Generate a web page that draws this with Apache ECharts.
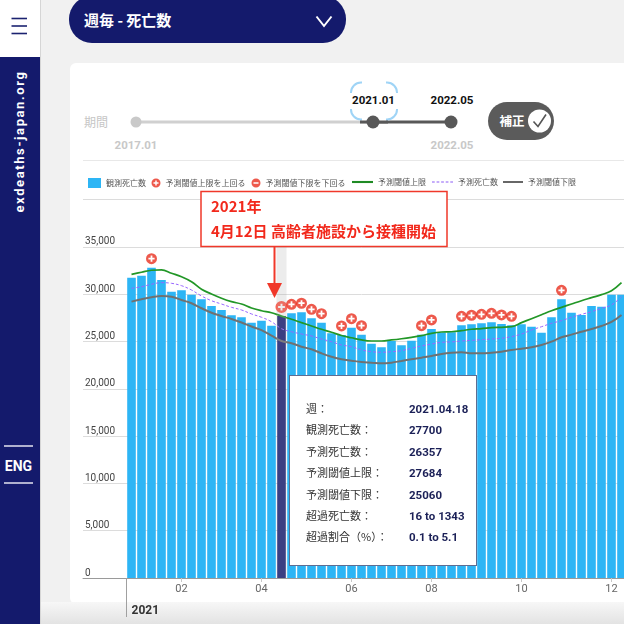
<!DOCTYPE html>
<html lang="ja"><head><meta charset="utf-8">
<script src="https://cdn.jsdelivr.net/npm/echarts@6.0.0/dist/echarts.min.js"></script>
<style>
html,body{margin:0;padding:0;}
body{width:624px;height:624px;overflow:hidden;position:relative;background:#f1f1f1;font-family:"Noto Sans CJK JP","Noto Sans",sans-serif;}
#chrome{position:absolute;left:0;top:0;}
#chart{position:absolute;left:0;top:0;width:640px;height:624px;}
</style></head><body>
<svg id="chrome" width="624" height="624" xmlns="http://www.w3.org/2000/svg">
 <defs><linearGradient id="fade" x1="0" y1="0" x2="0" y2="1"><stop offset="0" stop-color="#f7f7f7"/><stop offset="1" stop-color="#e3e3e3"/></linearGradient></defs>
 <rect x="0" y="0" width="624" height="624" fill="#f1f1f1"/>
 <rect x="70" y="63" width="600" height="541" rx="6" fill="#ffffff"/>
 <rect x="41" y="602" width="583" height="22" fill="url(#fade)"/>
 <rect x="0" y="0" width="40" height="57" fill="#ffffff"/>
 <rect x="0" y="57" width="40" height="567" fill="#141a6c"/>
 <line x1="40.5" y1="0" x2="40.5" y2="624" stroke="#d6d6d6"/>
 <g stroke="#1b2270" stroke-width="1.6"><line x1="11.5" y1="18.5" x2="27" y2="18.5"/><line x1="11.5" y1="26" x2="27" y2="26"/><line x1="11.5" y1="33.5" x2="27" y2="33.5"/></g>
 <text transform="translate(23.8,141.5) rotate(-90)" text-anchor="middle" font-family="Roboto" font-weight="700" font-size="13" letter-spacing="1.6" fill="#ffffff">exdeaths-japan.org</text>
 <g stroke="#e4e5f0" stroke-width="1.5"><line x1="4" y1="446" x2="33" y2="446"/><line x1="4" y1="483" x2="33" y2="483"/></g>
 <text x="18.5" y="470.5" text-anchor="middle" font-family="Roboto" font-weight="700" font-size="14" fill="#ffffff">ENG</text>
 <rect x="69" y="-4" width="277" height="47" rx="23" fill="#141a6c"/>
 <text x="84" y="25.5" font-family="'Noto Sans CJK JP'" font-weight="700" font-size="15" fill="#ffffff">週毎 - 死亡数</text>
 <polyline points="316.5,16.5 324,26 331.5,16.5" fill="none" stroke="#ffffff" stroke-width="2"/>
 <text x="84" y="126.5" font-family="'Noto Sans CJK JP'" font-size="12" fill="#c6c6c6">期間</text>
 <line x1="136" y1="122" x2="373" y2="122" stroke="#d0d0d0" stroke-width="3"/>
 <line x1="373" y1="122" x2="451" y2="122" stroke="#585858" stroke-width="3"/>
 <circle cx="136" cy="122" r="5.5" fill="#c9c9c9"/>
 <rect x="351" y="82.5" width="46" height="37" rx="10" fill="none" stroke="#9fd4f6" stroke-width="2"/>
 <rect x="348" y="93" width="52" height="16" fill="#ffffff"/>
 <rect x="362" y="79" width="24" height="44" fill="#ffffff"/>
 <line x1="360" y1="122" x2="388" y2="122" stroke="#585858" stroke-width="3"/>
 <circle cx="373" cy="122" r="6.5" fill="#585858"/>
 <circle cx="451" cy="122" r="6.5" fill="#585858"/>
 <g font-family="Roboto" font-weight="700" font-size="11.5" text-anchor="middle">
  <text x="373.5" y="104" fill="#111111">2021.01</text>
  <text x="452" y="104" fill="#111111">2022.05</text>
  <text x="452" y="149" fill="#c8c8c8">2022.05</text>
  <text x="136" y="149" fill="#c8c8c8">2017.01</text>
 </g>
 <rect x="488" y="102" width="66" height="38" rx="19" fill="#5b5b5b"/>
 <text x="512" y="125.5" text-anchor="middle" font-family="'Noto Sans CJK JP'" font-weight="700" font-size="12.5" fill="#ffffff">補正</text>
 <circle cx="539.5" cy="121" r="11.5" fill="#ffffff"/>
 <polyline points="533.5,121.5 538,126.5 546,114.5" fill="none" stroke="#555555" stroke-width="1.6"/>
 <line x1="83" y1="160.5" x2="624" y2="160.5" stroke="#e8e8e8"/>
</svg>
<div id="chart"></div>
<script>
const weeks = ['2021.01.03','2021.01.10','2021.01.17','2021.01.24','2021.01.31','2021.02.07','2021.02.14','2021.02.21','2021.02.28','2021.03.07',
 '2021.03.14','2021.03.21','2021.03.28','2021.04.04','2021.04.11','2021.04.18','2021.04.25','2021.05.02','2021.05.09','2021.05.16',
 '2021.05.23','2021.05.30','2021.06.06','2021.06.13','2021.06.20','2021.06.27','2021.07.04','2021.07.11','2021.07.18','2021.07.25',
 '2021.08.01','2021.08.08','2021.08.15','2021.08.22','2021.08.29','2021.09.05','2021.09.12','2021.09.19','2021.09.26','2021.10.03',
 '2021.10.10','2021.10.17','2021.10.24','2021.10.31','2021.11.07','2021.11.14','2021.11.21','2021.11.28','2021.12.05','2021.12.12'];
const observed = [31750,31970,32810,31510,30270,30420,29960,29470,28760,28340,27780,27570,27000,27210,26680,27700,27990,28100,27460,27000,
 25870,25700,26470,25730,24780,24390,25060,24610,25090,25730,26330,25950,25980,26720,26830,26930,27040,26860,26720,26830,
 26570,25940,27570,29470,28050,27810,28760,28690,29960,29960];
const expected = [30630,30800,31060,31230,31160,30910,30450,29820,29320,28970,28620,28340,27920,27570,27100,26357,26040,25800,25590,25270,
 24990,24640,24460,24110,23930,23870,23930,24040,24290,24530,24740,24920,24960,25060,25130,25200,25270,25350,25520,25800,
 26220,26570,26930,27210,27570,27880,28160,28520,28870,29750];
const upper = [32110,32330,32540,32570,32220,31860,31330,30530,30030,29580,29220,28970,28550,28260,28050,27684,27360,27000,26650,26300,
 25980,25640,25400,25170,25060,25060,25170,25300,25450,25620,25870,26010,26040,26150,26300,26360,26470,26510,26570,27000,
 27420,27840,28260,28620,28970,29320,29640,29960,30380,31230];
const lower = [29220,29470,29680,29820,29750,29400,29050,28520,28050,27700,27390,27020,26590,26200,25620,25060,24820,24460,24180,23760,
 23400,23130,22980,22840,22770,22700,22770,22950,23130,23300,23470,23690,23820,23870,23760,23760,23820,23930,24110,24250,
 24390,24640,24990,25450,25730,26040,26330,26650,27070,27810];
const yMin = 0, yMax = 40000, yInterval = 5000;
const selectedIndex = 15;
const annotationLines = ['2021年', '4月12日 高齢者施設から接種開始'];
const seriesNames = ['観測死亡数','予測閾値上限を上回る','予測閾値下限を下回る','予測閾値上限','予測死亡数','予測閾値下限'];
const tipLabels = ['週：','観測死亡数：','予測死亡数：','予測閾値上限：','予測閾値下限：','超過死亡数：','超過割合（%）：'];

const NUMF = "Roboto,sans-serif";
const CJK = "'Noto Sans CJK JP',sans-serif";
const BAR = '#2db5f5', SEL = '#1b1f6e', RED = '#e8301f';
const GREEN = '#1f8a24', PURPLE = '#8b5cf6', GRAY = '#676767';
const CIRCLE = 'M10,0A10,10,0,1,1,10,20A10,10,0,1,1,10,0Z';
const PLUS = 'path://' + CIRCLE + 'M8.4,4.4L8.4,8.4L4.4,8.4L4.4,11.6L8.4,11.6L8.4,15.6L11.6,15.6L11.6,11.6L15.6,11.6L15.6,8.4L11.6,8.4L11.6,4.4Z';
const MINUS = 'path://' + CIRCLE + 'M4.4,8.4L4.4,11.6L15.6,11.6L15.6,8.4Z';
const SOLID = 'path://M0,0L20,0L20,2L0,2Z';
const DASHED = 'path://M0,0L2.6,0L2.6,1L0,1Z M4.35,0L6.95,0L6.95,1L4.35,1Z M8.7,0L11.3,0L11.3,1L8.7,1Z M13.05,0L15.65,0L15.65,1L13.05,1Z M17.4,0L20,0L20,1L17.4,1Z';

const isMonthTick = (i, v) => { const m = +v.slice(5,7), d = +v.slice(8,10); return d <= 7 && m % 2 === 0; };
const isYearTick = (i, v) => i === 0 || (+v.slice(5,7) === 1 && +v.slice(8,10) <= 7);

const barData = observed.map((v, i) => i === selectedIndex ? {value: v, itemStyle: {color: SEL}} : v);
const aboveData = observed.map((v, i) => v > upper[i] ? v : '-');
const belowData = observed.map((v, i) => v < lower[i] ? v : '-');

const fmt = n => n.toLocaleString('en-US');
function tipHtml(i) {
  const e1 = observed[i] - upper[i], e2 = observed[i] - expected[i];
  const p1 = (e1 / upper[i] * 100).toFixed(1), p2 = (e2 / expected[i] * 100).toFixed(1);
  const vals = [weeks[i], observed[i], expected[i], upper[i], lower[i], e1 + ' to ' + e2, p1 + ' to ' + p2];
  let rows = '';
  tipLabels.forEach((l, k) => {
    rows += '<div style="height:21.4px;line-height:21.4px;white-space:nowrap">' +
      '<span style="display:inline-block;width:103px;color:#333;font-size:11px;font-family:&quot;Noto Sans CJK JP&quot;,sans-serif">' + l + '</span>' +
      '<span style="font-weight:700;color:#1b2057;font-size:11.5px;font-family:Roboto,sans-serif">' + vals[k] + '</span></div>';
  });
  return '<div style="width:188px;height:191px;box-sizing:border-box;border:1.5px solid #5e6d92;background:#fff;padding:21px 0 0 16px;">' + rows + '</div>';
}

const legendText = {fontSize: 8, color: '#555', fontFamily: CJK};
const chart = echarts.init(document.getElementById('chart'));
const GRID_TOP = 199.7, GRID_H = 378.3;
chart.setOption({
  animation: false,
  textStyle: {fontFamily: CJK},
  grid: [
    {left: 83, top: GRID_TOP, width: 557, height: GRID_H},
    {left: 126.5, top: GRID_TOP, width: 500, height: GRID_H}
  ],
  legend: [
    {left: 83, top: 173, itemWidth: 13, itemHeight: 10, selectedMode: false, textStyle: legendText, data: [{name: seriesNames[0], icon: 'rect'}]},
    {left: 146.5, top: 173.5, itemWidth: 9, itemHeight: 9, selectedMode: false, textStyle: legendText, data: [{name: seriesNames[1], icon: PLUS}]},
    {left: 246.5, top: 173.5, itemWidth: 9, itemHeight: 9, selectedMode: false, textStyle: legendText, data: [{name: seriesNames[2], icon: MINUS}]},
    {left: 347, top: 173, itemWidth: 21, itemHeight: 10, selectedMode: false, textStyle: legendText, data: [{name: seriesNames[3], icon: SOLID}]},
    {left: 427, top: 173, itemWidth: 21, itemHeight: 10, selectedMode: false, textStyle: legendText, data: [{name: seriesNames[4], icon: DASHED}]},
    {left: 498, top: 173, itemWidth: 20, itemHeight: 10, selectedMode: false, textStyle: legendText, data: [{name: seriesNames[5], icon: SOLID}]}
  ],
  tooltip: {
    trigger: 'axis', triggerOn: 'none', alwaysShowContent: true, transitionDuration: 0,
    axisPointer: {type: 'shadow', shadowStyle: {color: 'rgba(170,170,170,0.22)'}},
    position: [289, 375], padding: 0, borderWidth: 0, backgroundColor: 'transparent',
    extraCssText: 'box-shadow:none;border-radius:0;',
    formatter: params => tipHtml(params[0].dataIndex)
  },
  xAxis: [
    {gridIndex: 0, type: 'value', min: 0, max: 1, axisLine: {show: true, lineStyle: {color: '#9a9a9a'}},
     axisTick: {show: false}, axisLabel: {show: false}, splitLine: {show: false}, axisPointer: {show: false}},
    {gridIndex: 1, type: 'category', data: weeks, position: 'bottom', axisLine: {show: false},
     axisTick: {show: true, alignWithLabel: true, interval: isMonthTick, length: 4, lineStyle: {color: '#c8c8c8'}},
     axisLabel: {interval: isMonthTick, formatter: v => v.slice(5,7), color: '#666', fontSize: 11, margin: 6, fontFamily: NUMF}},
    {gridIndex: 1, type: 'category', data: weeks, position: 'bottom', axisLine: {show: false}, axisPointer: {show: false},
     axisTick: {show: true, interval: isYearTick, length: 39, lineStyle: {color: '#a0a0a0'}},
     axisLabel: {interval: isYearTick, formatter: v => v.slice(0,4), align: 'left', margin: 27, color: '#333', fontWeight: 'bold', fontSize: 12, fontFamily: NUMF}}
  ],
  yAxis: [
    {gridIndex: 0, type: 'value', min: yMin, max: yMax, interval: yInterval, axisLine: {show: false}, axisTick: {show: false},
     splitLine: {lineStyle: {color: '#dcdcdc'}},
     axisLabel: {inside: true, margin: 2, verticalAlign: 'bottom', showMaxLabel: false, color: '#444', fontSize: 10, fontFamily: NUMF, formatter: v => fmt(v)}},
    {gridIndex: 1, type: 'value', min: yMin, max: yMax, interval: yInterval, show: false}
  ],
  series: [
    {name: seriesNames[0], type: 'bar', xAxisIndex: 1, yAxisIndex: 1, data: barData, barCategoryGap: '14%', itemStyle: {color: BAR}, z: 2},
    {name: seriesNames[1], type: 'scatter', xAxisIndex: 1, yAxisIndex: 1, data: aboveData, symbol: PLUS, symbolSize: 11, symbolOffset: [0, -9], itemStyle: {color: RED}, z: 6},
    {name: seriesNames[2], type: 'scatter', xAxisIndex: 1, yAxisIndex: 1, data: belowData, symbol: MINUS, symbolSize: 11, symbolOffset: [0, 9], itemStyle: {color: RED}, z: 6},
    {name: seriesNames[3], type: 'line', xAxisIndex: 1, yAxisIndex: 1, data: upper, symbol: 'none', smooth: 0.4, lineStyle: {color: GREEN, width: 1.7}, itemStyle: {color: GREEN}, z: 4},
    {name: seriesNames[4], type: 'line', xAxisIndex: 1, yAxisIndex: 1, data: expected, symbol: 'none', smooth: 0.4, lineStyle: {color: PURPLE, width: 1, type: [3, 2]}, itemStyle: {color: PURPLE}, z: 4},
    {name: seriesNames[5], type: 'line', xAxisIndex: 1, yAxisIndex: 1, data: lower, symbol: 'none', smooth: 0.4, lineStyle: {color: GRAY, width: 2}, itemStyle: {color: GRAY}, z: 4}
  ]
});

const cx = chart.convertToPixel({xAxisIndex: 1}, weeks[selectedIndex]);
const ax = cx - 7;
chart.setOption({
  graphic: [
    {type: 'rect', z: 100, shape: {x: 201, y: 191.5, width: 246, height: 55}, style: {fill: '#fff', stroke: '#f0382a', lineWidth: 1.5}},
    {type: 'text', z: 101, x: 211, y: 206.5, style: {text: annotationLines[0], fill: '#f2291c', font: 'bold 15px ' + CJK, verticalAlign: 'middle'}},
    {type: 'text', z: 101, x: 211, y: 231.5, style: {text: annotationLines[1], fill: '#f2291c', font: 'bold 15px ' + CJK, verticalAlign: 'middle'}},
    {type: 'line', z: 100, shape: {x1: ax, y1: 247, x2: ax, y2: 285}, style: {stroke: '#f0382a', lineWidth: 2}},
    {type: 'polygon', z: 100, shape: {points: [[ax - 7.5, 283], [ax + 7.5, 283], [ax, 298]]}, style: {fill: '#f0382a'}}
  ]
});
chart.dispatchAction({type: 'showTip', seriesIndex: 0, dataIndex: selectedIndex});
</script>
</body></html>
